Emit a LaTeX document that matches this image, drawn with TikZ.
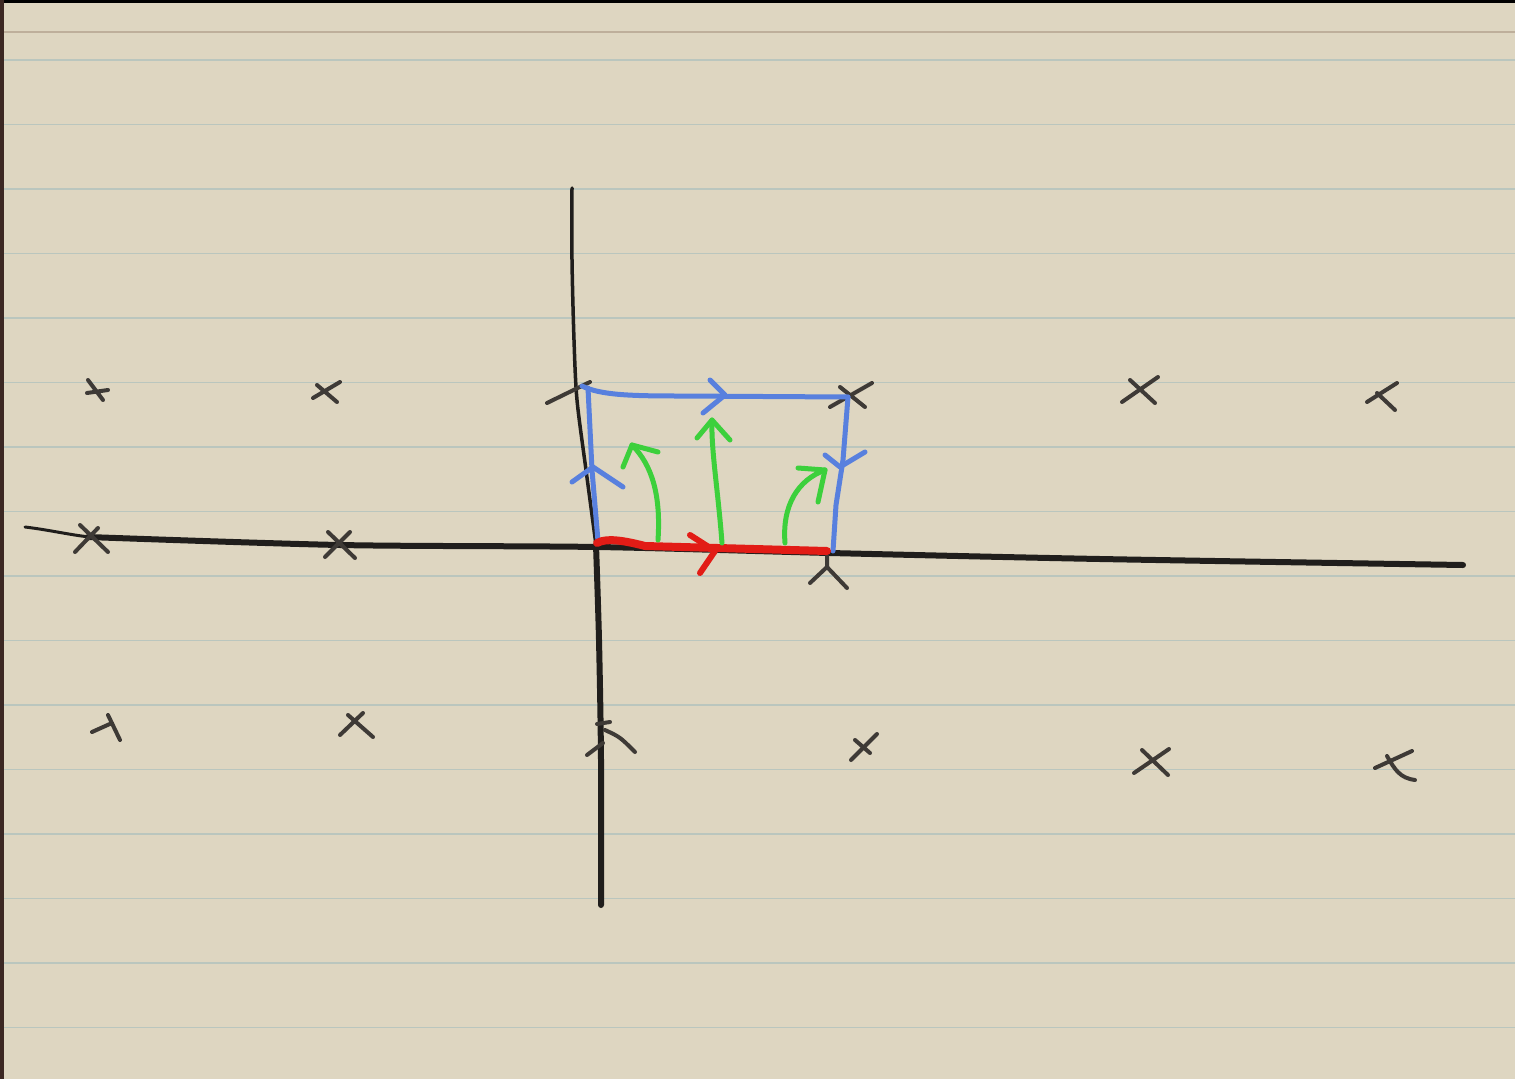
\documentclass[tikz,border=0pt]{standalone}
\definecolor{paper}{RGB}{222,214,193}
\definecolor{ruleline}{RGB}{186,198,190}
\definecolor{brownrule}{RGB}{190,175,155}
\definecolor{inkk}{RGB}{32,30,28}
\definecolor{pencil}{RGB}{62,58,54}
\definecolor{penblue}{RGB}{88,128,222}
\definecolor{penred}{RGB}{226,28,22}
\definecolor{pengreen}{RGB}{60,208,60}
\definecolor{leftedge}{RGB}{60,40,35}
\begin{document}
\begin{tikzpicture}[x=1pt,y=-1pt,line cap=round,line join=round,
  axisline/.style={draw=inkk,line width=6pt},
  crossmark/.style={draw=pencil,line width=4pt},
  bluepen/.style={draw=penblue,line width=5pt},
  redpen/.style={draw=penred,line width=8pt},
  greenpen/.style={draw=pengreen,line width=5pt}]
% paper
\fill[paper] (0,0) rectangle (1515,1079);
\useasboundingbox (0,0) rectangle (1515,1079);
\foreach \k in {0,...,15}
  \draw[ruleline,line width=1.4pt] (0,{60+64.5*\k}) -- (1515,{60+64.5*\k});
\draw[brownrule,line width=1.4pt] (0,32) -- (1515,32);
\fill[black] (0,0) rectangle (1515,3);
\fill[leftedge] (0,0) rectangle (4,1079);

% axes
\coordinate (hstart) at (25,527);
\coordinate (hend) at (1463,565);
\coordinate (vtop) at (572,188);
\coordinate (vbot) at (601,905);
\draw[inkk,line width=3pt] (hstart) .. controls (50,530) and (70,535) .. (90,537);
\draw[axisline] plot[smooth] coordinates {(88,537) (340,545) (597,547) (830,553) (1100,559) (hend)};
\draw[inkk,line width=3.5pt] plot[smooth] coordinates {(vtop) (572,260) (574,340) (577,400) (586,470) (596,545)};
\draw[axisline] plot[smooth] coordinates {(596,545) (599,640) (601,760) (vbot)};

% crosses row 1
\draw[crossmark] (88,380) -- (103,400) (87,393) -- (108,390);
\draw[crossmark] (313,398) -- (340,382) (317,385) -- (337,402);
\draw[crossmark] (547,403) -- (590,382);
\draw[crossmark] (830,407) -- (872,383) (840,387) -- (865,407);
\draw[crossmark] (1122,402) -- (1158,377) (1130,380) -- (1155,403);
\draw[crossmark] (1367,402) -- (1397,383) (1377,393) -- (1395,410);
% crosses row 2
\draw[crossmark] (75,552) -- (98,528) (80,525) -- (108,552);
\draw[crossmark] (325,557) -- (350,532) (328,532) -- (355,558);
\draw[crossmark] (827,556) -- (827,567) (810,583) -- (827,567) -- (847,588);
% crosses row 3
\draw[crossmark] (92,732) -- (112,723) (108,715) -- (120,740);
\draw[crossmark] (340,735) -- (363,713) (348,715) -- (373,737);
\draw[crossmark] (587,755) -- (603,743) (605,730) .. controls (620,737) .. (635,752) (597,724) -- (610,722);
\draw[crossmark] (851,760) -- (877,734) (855,740) -- (870,753);
\draw[crossmark] (1134,773) -- (1169,749) (1142,750) -- (1168,775);
\draw[crossmark] (1375,768) -- (1412,751) (1387,756) .. controls (1395,770) and (1400,778) .. (1415,780);

% blue contour
\coordinate (tl) at (582,386);
\coordinate (tr) at (848,397);
\coordinate (br) at (833,551);
\coordinate (bl) at (598,541);
\draw[bluepen] (tl) .. controls (600,395) and (630,396) .. (680,396) -- (tr);
\draw[bluepen] (tr) -- (843,460) -- (836,505) -- (br);
\draw[bluepen] (588,388) -- (592,470) -- (bl);
\draw[bluepen] (710,380) -- (725,395) -- (703,413);
\draw[bluepen] (825,455) -- (840,467) -- (865,452);
\draw[bluepen] (572,482) -- (593,467) -- (623,487);

% red segment
\coordinate (ra) at (597,543);
\coordinate (rb) at (827,551);
\draw[redpen] (ra) .. controls (606,538) and (622,540) .. (645,546) -- (rb);
\draw[penred,line width=6pt] (690,535) -- (715,551) -- (700,573);

% green arrows
\coordinate (g1a) at (658,540); \coordinate (g1b) at (632,445);
\coordinate (g2a) at (722,543); \coordinate (g2b) at (712,420);
\coordinate (g3a) at (785,543); \coordinate (g3b) at (825,470);
\draw[greenpen] (g1a) .. controls (661,495) and (652,465) .. (g1b);
\draw[greenpen] (623,467) -- (g1b) -- (658,452);
\draw[greenpen] (g2a) .. controls (718,490) and (711,450) .. (g2b);
\draw[greenpen] (697,438) -- (g2b) -- (730,440);
\draw[greenpen] (g3a) .. controls (782,505) and (798,480) .. (g3b);
\draw[greenpen] (798,468) -- (g3b) -- (818,502);
\end{tikzpicture}
\end{document}
